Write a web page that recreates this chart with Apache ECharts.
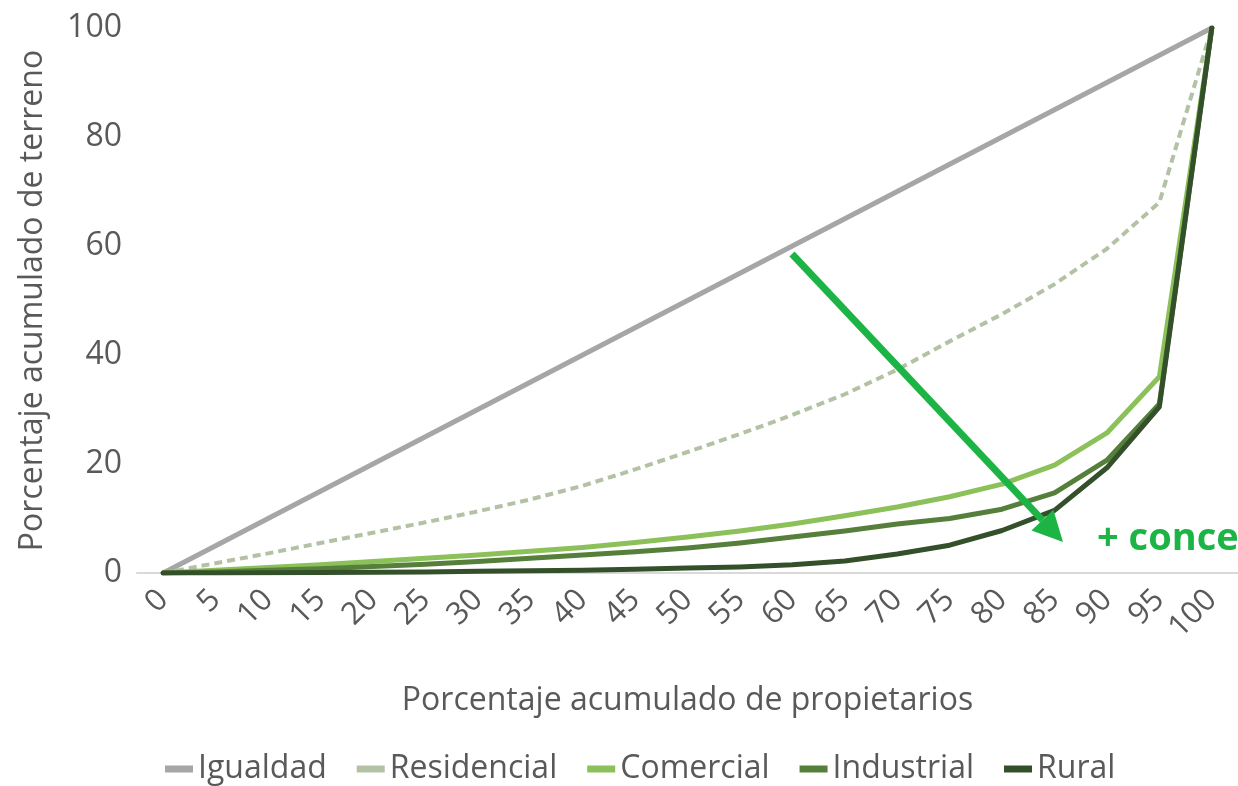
<!DOCTYPE html>
<html>
<head>
<meta charset="utf-8">
<script src="https://cdn.jsdelivr.net/npm/echarts@6/dist/echarts.min.js"></script>
<style>
html, body { margin: 0; padding: 0; background: #fff; }
#chart { width: 1238px; height: 786px; }
</style>
</head>
<body>
<div id="chart"></div>
<script>
// categorias del eje X (porcentaje acumulado de propietarios)
const categories = ['0', '5', '10', '15', '20', '25', '30', '35', '40', '45', '50',
	'55', '60', '65', '70', '75', '80', '85', '90', '95', '100']

// series (porcentaje acumulado de terreno)
const igualdad = [0, 5, 10, 15, 20, 25, 30, 35, 40, 45, 50, 55, 60, 65, 70, 75, 80, 85, 90, 95, 100]
const residencial = [0, 1.8, 3.6, 5.5, 7.4, 9.3, 11.3, 13.5, 16, 19, 22.2, 25.5, 29, 32.8, 37.3, 42.5, 47.5, 53, 59.5, 68, 100]
const comercial = [0, 0.5, 1, 1.5, 2.1, 2.7, 3.3, 4, 4.7, 5.6, 6.6, 7.7, 9, 10.5, 12.1, 14, 16.3, 19.8, 25.7, 36, 100]
const industrial = [0, 0.2, 0.5, 0.8, 1.2, 1.6, 2.1, 2.7, 3.3, 3.9, 4.6, 5.5, 6.6, 7.7, 9, 10, 11.7, 14.7, 20.7, 31, 100]
const rural = [0, 0, 0.05, 0.1, 0.15, 0.2, 0.3, 0.4, 0.5, 0.7, 0.9, 1.1, 1.5, 2.2, 3.5, 5.1, 7.8, 11.5, 19.3, 30.5, 100]

const yTicks = [0, 20, 40, 60, 80, 100]

const textColor = '#595959'
const fontFamily = '"Open Sans", sans-serif'

const chart = echarts.init(document.getElementById('chart'))

// linea simple
function lineSeries(name, data, color, width, dash) {
	return {
		name,
		type: 'line',
		data,
		showSymbol: false,
		symbol: 'none',
		lineStyle: { color, width, type: dash || 'solid', cap: dash ? 'butt' : 'round', join: 'round' },
		itemStyle: { color },
		emphasis: { disabled: true },
	}
}

// flecha de anotacion (+ concentracion)
const arrowFrom = [792, 254]
const arrowTip = [1063, 542]
const dx = arrowTip[0] - arrowFrom[0]
const dy = arrowTip[1] - arrowFrom[1]
const len = Math.sqrt(dx * dx + dy * dy)
const ux = dx / len
const uy = dy / len
const headLen = 30
const headHalf = 15
const base = [arrowTip[0] - ux * headLen, arrowTip[1] - uy * headLen]

const option = {
	backgroundColor: '#fff',
	animation: false,
	textStyle: { fontFamily },
	grid: { left: 137, right: 0, top: 28, bottom: 213 },
	legend: {
		left: 160,
		top: 748,
		icon: 'rect',
		itemWidth: 28,
		itemHeight: 7,
		itemGap: 30,
		textStyle: { color: textColor, fontSize: 32, fontFamily },
		data: ['Igualdad', 'Residencial', 'Comercial', 'Industrial', 'Rural'],
	},
	xAxis: {
		type: 'category',
		data: categories,
		boundaryGap: true,
		name: 'Porcentaje acumulado de propietarios',
		nameLocation: 'middle',
		nameGap: 112,
		nameTextStyle: { color: textColor, fontSize: 32 },
		axisLine: { show: true, lineStyle: { color: '#d9d9d9', width: 2 } },
		axisTick: { show: false },
		axisLabel: { color: textColor, fontSize: 31, rotate: 45, margin: 22, interval: 0 },
		splitLine: { show: false },
	},
	yAxis: {
		type: 'value',
		min: 0,
		max: 100,
		interval: 20,
		name: 'Porcentaje acumulado de terreno',
		nameLocation: 'middle',
		nameGap: 88,
		nameTextStyle: { color: textColor, fontSize: 32 },
		axisLine: { show: false },
		axisTick: { show: false },
		axisLabel: {
			color: textColor,
			fontSize: 32,
			margin: 15,
			formatter: (v) => (yTicks.includes(v) ? String(v) : ''),
		},
		splitLine: { show: false },
	},
	series: [
		lineSeries('Igualdad', igualdad, '#a6a6a6', 5),
		lineSeries('Residencial', residencial, '#b3c2a4', 4, [8, 5]),
		lineSeries('Comercial', comercial, '#8cc15a', 5),
		lineSeries('Industrial', industrial, '#557f3a', 5),
		lineSeries('Rural', rural, '#34502a', 5),
	],
	graphic: [
		{
			type: 'line',
			shape: { x1: arrowFrom[0], y1: arrowFrom[1], x2: base[0], y2: base[1] },
			style: { stroke: '#1db446', lineWidth: 7 },
			z: 100,
		},
		{
			type: 'polygon',
			shape: {
				points: [
					arrowTip,
					[base[0] - uy * headHalf, base[1] + ux * headHalf],
					[base[0] + uy * headHalf, base[1] - ux * headHalf],
				],
			},
			style: { fill: '#1db446' },
			z: 100,
		},
		{
			type: 'text',
			left: 1097,
			top: 520,
			style: {
				text: '+ concentración',
				fill: '#1db446',
				font: 'bold 38px "Open Sans", sans-serif',
			},
			z: 100,
		},
	],
}

chart.setOption(option)
</script>
</body>
</html>
